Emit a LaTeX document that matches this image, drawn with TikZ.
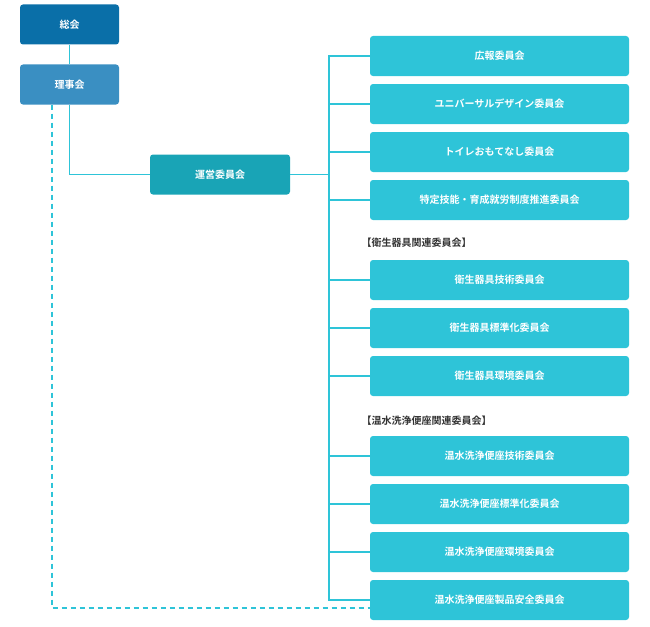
\documentclass[tikz,border=0pt]{standalone}
\usepackage{fontspec}
\newfontfamily\cjk{Noto Sans CJK JP}[BoldFont={Noto Sans CJK JP Bold}]
\definecolor{sokai}{HTML}{0A6FA8}
\definecolor{rijikai}{HTML}{3A8FC2}
\definecolor{unei}{HTML}{19A4B6}
\definecolor{iinkai}{HTML}{2EC4D8}
\definecolor{hdr}{HTML}{333333}
\tikzset{
  box/.style={rounded corners=3pt, text=white, font=\cjk\bfseries\fontsize{10}{12}\selectfont, minimum height=40pt, inner sep=0pt},
  top/.style={box, minimum width=99pt},
  sub/.style={box, fill=iinkai, minimum width=259pt},
  hd/.style={anchor=west, text=hdr, font=\cjk\bfseries\fontsize{10}{12}\selectfont},
  link/.style={iinkai, line width=1.5pt},
}
\begin{document}
\begin{tikzpicture}[x=1pt,y=-1pt]
    \useasboundingbox (0,0) rectangle (650,626);
    % Top level
    \node[top, fill=sokai] (sokai) at (69.5,24.5) {総会};
    \node[top, fill=rijikai] (riji) at (69.5,84.5) {理事会};
    \node[box, fill=unei, minimum width=140pt] (unei) at (220,174.5) {運営委員会};

    % Committees
    \foreach \name/\y/\txt in {koho/56/広報委員会, ud/104/ユニバーサルデザイン委員会,
        toilet/152/トイレおもてなし委員会, tokutei/200/特定技能・育成就労制度推進委員会,
        egi/280/衛生器具技術委員会, ehyo/328/衛生器具標準化委員会, ekan/376/衛生器具環境委員会,
        ogi/456/温水洗浄便座技術委員会, ohyo/504/温水洗浄便座標準化委員会,
        okan/552/温水洗浄便座環境委員会, oan/600/温水洗浄便座製品安全委員会}
        \node[sub] (\name) at (499.5,\y) {\txt};
    \node[hd] (h1) at (358,243) {【衛生器具関連委員会】};
    \node[hd] (h2) at (358,421) {【温水洗浄便座関連委員会】};

    % Connectors
    \coordinate (bus) at (329,174.5);
    \draw[link] (sokai) -- (riji);
    \draw[link] (riji) |- (unei);
    \draw[link] (unei) -- (bus);
    \draw[link] (koho.west) -| (bus) |- (oan.west);
    \foreach \name in {ud,toilet,tokutei,egi,ehyo,ekan,ogi,ohyo,okan}
        \draw[link] (\name.west) -- (\name.west -| bus);
    \coordinate (dash) at (52,104.5);
    \draw[link, dash pattern=on 5pt off 4pt] (dash) |- ([yshift=-8pt]oan.west);
\end{tikzpicture}
\end{document}
